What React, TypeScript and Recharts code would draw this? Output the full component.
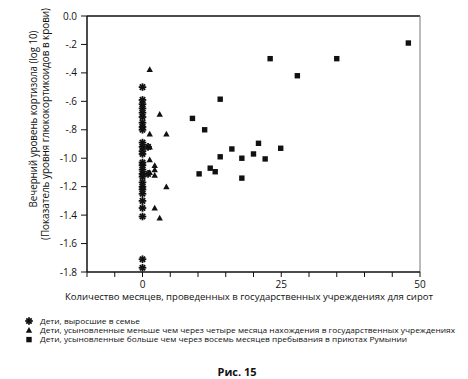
import React from 'react';
import { ScatterChart, Scatter, XAxis, YAxis, ReferenceLine } from 'recharts';

const familyX = [0, 0, 0, 0, 0, 0, 0, 0, 0, 0, 0, 1, 0, 0, 0, 0, 0, 0, 1, 0, 0, 0, 0, 0, 0, 0, 0, 0];
const familyY = [-0.50, -0.59, -0.62, -0.65, -0.68, -0.71, -0.75, -0.78, -0.80, -0.89, -0.92, -0.92, -0.95, -0.97, -1.03, -1.05, -1.08, -1.11, -1.11, -1.13, -1.17, -1.20, -1.22, -1.25, -1.30, -1.35, -1.41, -1.71];
const familyExtraY = [-1.77];

const earlyX = [1.3, 3.1, 1.3, 4.3, 1.3, 1.3, 2.2, 2.2, 1.3, 2.2, 4.3, 2.2, 3.1];
const earlyY = [-0.375, -0.69, -0.83, -0.83, -0.92, -1.01, -1.05, -1.08, -1.10, -1.12, -1.20, -1.35, -1.42];

const lateX = [9.0, 10.2, 11.2, 12.2, 13.1, 14.0, 14.0, 16.1, 17.9, 17.9, 20.0, 20.9, 22.1, 23.0, 24.9, 27.9, 35.0, 47.9];
const lateY = [-0.72, -1.11, -0.80, -1.07, -1.095, -0.585, -0.99, -0.935, -1.00, -1.14, -0.97, -0.895, -1.005, -0.30, -0.93, -0.42, -0.30, -0.19];

const xTicks = [-10, -5, 0, 5, 10, 15, 20, 25, 30, 35, 40, 45, 50];
const xTickLabels = [0, 25, 50];
const yTicks = [0, -0.2, -0.4, -0.6, -0.8, -1.0, -1.2, -1.4, -1.6, -1.8];
const yTickLabels = ['0.0', '-.2', '-.4', '-.6', '-.8', '-1.0', '-1.2', '-1.4', '-1.6', '-1.8'];

const legendItems = [
  'Дети, выросшие в семье',
  'Дети, усыновленные меньше чем через четыре месяца нахождения в государственных учреждениях',
  'Дети, усыновленные больше чем через восемь месяцев пребывания в приютах Румынии',
];
const legendWidths = [100, 415, 367];

const family = [...familyX.map((x, i) => ({ x, y: familyY[i] })), { x: 0, y: familyExtraY[0] }];
const early = earlyX.map((x, i) => ({ x, y: earlyY[i] }));
const late = lateX.map((x, i) => ({ x, y: lateY[i] }));

const FONT = '"Open Sans", "Noto Sans", sans-serif';

const StarShape = (props: any) => {
  const { cx, cy } = props;
  const r = 3.8;
  const lines = [0, 45, 90, 135].map((a) => {
    const rad = (a * Math.PI) / 180;
    return (
      <line key={a} x1={cx - r * Math.cos(rad)} y1={cy - r * Math.sin(rad)} x2={cx + r * Math.cos(rad)} y2={cy + r * Math.sin(rad)} stroke="#111" strokeWidth={1.8} />
    );
  });
  return <g>{lines}</g>;
};

const TriShape = (props: any) => {
  const { cx, cy } = props;
  const s = 3.2;
  return <polygon points={`${cx},${cy - s} ${cx + s},${cy + s * 0.8} ${cx - s},${cy + s * 0.8}`} fill="#111" />;
};

const SqShape = (props: any) => {
  const { cx, cy } = props;
  const s = 2.7;
  return <rect x={cx - s} y={cy - s} width={2 * s} height={2 * s} fill="#111" />;
};

const YTick = (props: any) => {
  const { x, y, payload } = props;
  const idx = yTicks.findIndex((t) => Math.abs(t - payload.value) < 1e-6);
  return (
    <text x={x - 2} y={y} dy={3.5} textAnchor="end" fontSize={10} fontFamily={FONT} fill="#111">
      {idx >= 0 ? yTickLabels[idx] : ''}
    </text>
  );
};

const XTick = (props: any) => {
  const { x, y, payload } = props;
  const show = xTickLabels.includes(payload.value);
  return (
    <text x={x} y={y + 9} textAnchor="middle" fontSize={10} fontFamily={FONT} fill="#111">
      {show ? String(payload.value) : ''}
    </text>
  );
};

export default function App() {
  return (
    <div style={{ position: 'absolute', left: 0, top: 0, width: 468, height: 379, background: '#fff', fontFamily: FONT }}>
      <ScatterChart width={468} height={379} margin={{ top: 16, right: 48, bottom: 77, left: 57 }}>
        <XAxis
          type="number"
          dataKey="x"
          domain={[-10, 50]}
          ticks={xTicks}
          tick={<XTick />}
          tickSize={5}
          axisLine={{ stroke: '#111', strokeWidth: 1.5 }}
          tickLine={{ stroke: '#111' }}
          height={30}
          allowDataOverflow
        />
        <YAxis
          type="number"
          dataKey="y"
          domain={[-1.8, 0]}
          ticks={yTicks}
          tick={<YTick />}
          tickSize={6}
          width={30}
          axisLine={{ stroke: '#111', strokeWidth: 1.5 }}
          tickLine={{ stroke: '#111' }}
          allowDataOverflow
        />
        <ReferenceLine y={0} stroke="#111" strokeWidth={1.5} />
        <ReferenceLine x={50} stroke="#777" strokeWidth={1} />
        <Scatter data={family} shape={<StarShape />} isAnimationActive={false} />
        <Scatter data={early} shape={<TriShape />} isAnimationActive={false} />
        <Scatter data={late} shape={<SqShape />} isAnimationActive={false} />
      </ScatterChart>
      <svg width={468} height={379} style={{ position: 'absolute', left: 0, top: 0, pointerEvents: 'none' }}>
        <text transform="translate(37,119) rotate(-90)" textAnchor="middle" fontSize={10} fontFamily={FONT} fill="#111" textLength={177} lengthAdjust="spacingAndGlyphs">
          Вечерний уровень кортизола (log 10)
        </text>
        <text transform="translate(49,124) rotate(-90)" textAnchor="middle" fontSize={10} fontFamily={FONT} fill="#111" textLength={232} lengthAdjust="spacingAndGlyphs">
          (Показатель уровня глюкокортикоидов в крови)
        </text>
        <text x={249} y={300} textAnchor="middle" fontSize={9.6} fontFamily={FONT} fill="#111" textLength={368} lengthAdjust="spacingAndGlyphs">
          Количество месяцев, проведенных в государственных учреждениях для сирот
        </text>
        {legendItems.map((t, i) => {
          const y = 321 + i * 9.3;
          let sym: any;
          if (i === 0) sym = <StarShape cx={29} cy={y} />;
          else if (i === 1) sym = <TriShape cx={29} cy={y} />;
          else sym = <SqShape cx={29} cy={y} />;
          return (
            <g key={i}>
              {sym}
              <text x={40} y={y + 2.8} fontSize={7.6} fontFamily={FONT} fill="#111" textLength={legendWidths[i]} lengthAdjust="spacingAndGlyphs">
                {t}
              </text>
            </g>
          );
        })}
        <text x={237} y={376} textAnchor="middle" fontSize={11} fontWeight="bold" fontFamily={FONT} fill="#111">
          Рис. 15
        </text>
      </svg>
    </div>
  );
}
